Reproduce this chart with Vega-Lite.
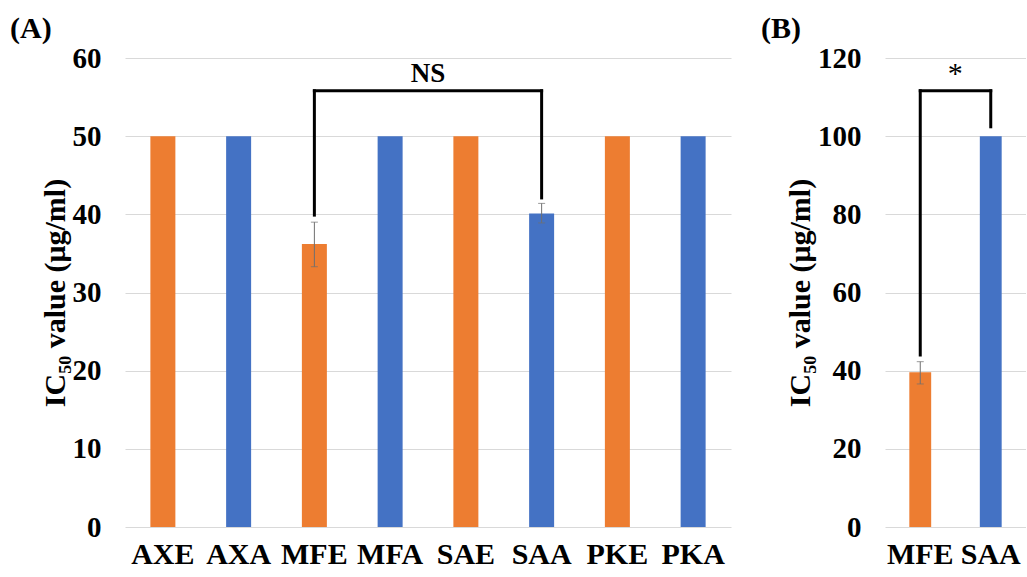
{
  "$schema": "https://vega.github.io/schema/vega-lite/v6.json",
  "padding": {"left": 10, "top": 14, "right": 0, "bottom": 0},
  "background": "white",
  "datasets": {
    "barsA": [
      {"sample": "AXE", "type": "E", "ic50": 50},
      {"sample": "AXA", "type": "A", "ic50": 50},
      {"sample": "MFE", "type": "E", "ic50": 36.2},
      {"sample": "MFA", "type": "A", "ic50": 50},
      {"sample": "SAE", "type": "E", "ic50": 50},
      {"sample": "SAA", "type": "A", "ic50": 40.1},
      {"sample": "PKE", "type": "E", "ic50": 50},
      {"sample": "PKA", "type": "A", "ic50": 50}
    ],
    "errA": [
      {"sample": "MFE", "lo": 33.3, "hi": 39.0},
      {"sample": "SAA", "lo": 38.9, "hi": 41.4}
    ],
    "brA": [
      {"s1": "MFE", "s2": "SAA", "y1": 55.8, "y2": 55.8},
      {"s1": "MFE", "s2": "MFE", "y1": 39.9, "y2": 55.8},
      {"s1": "SAA", "s2": "SAA", "y1": 42.1, "y2": 55.8}
    ],
    "labA": [{"y": 58.0, "label": "NS"}],
    "barsB": [
      {"sample": "MFE", "type": "E", "ic50": 39.6},
      {"sample": "SAA", "type": "A", "ic50": 100}
    ],
    "errB": [
      {"sample": "MFE", "lo": 36.6, "hi": 42.3}
    ],
    "brB": [
      {"s1": "MFE", "s2": "SAA", "y1": 111.6, "y2": 111.6},
      {"s1": "MFE", "s2": "MFE", "y1": 44.0, "y2": 111.6},
      {"s1": "SAA", "s2": "SAA", "y1": 102.4, "y2": 111.6}
    ],
    "labB": [{"y": 116.0, "label": "*"}]
  },
  "hconcat": [
    {
      "width": 606,
      "height": 469,
      "title": {"text": "(A)", "anchor": "start", "frame": "group", "dx": -115, "dy": 6},
      "layer": [
        {
          "data": {"name": "barsA"},
          "mark": {"type": "bar"},
          "encoding": {
            "x": {"field": "sample", "type": "nominal", "sort": null,
                  "scale": {"domain": ["AXE","AXA","MFE","MFA","SAE","SAA","PKE","PKA"], "paddingInner": 0.67, "paddingOuter": 0.335},
                  "axis": {"title": null}},
            "y": {"field": "ic50", "type": "quantitative",
                  "scale": {"domain": [0, 60]},
                  "axis": {"values": [0,10,20,30,40,50,60], "title": "IC₅₀ value (μg/ml)"}},
            "color": {"field": "type", "type": "nominal",
                      "scale": {"domain": ["E","A"], "range": ["#ED7D31","#4472C4"]}, "legend": null}
          }
        },
        {
          "data": {"name": "errA"},
          "mark": {"type": "rule", "color": "#6f6f6f", "strokeWidth": 1},
          "encoding": {
            "x": {"field": "sample", "type": "nominal"},
            "y": {"field": "lo", "type": "quantitative"},
            "y2": {"field": "hi"}
          }
        },
        {
          "data": {"name": "errA"},
          "mark": {"type": "tick", "color": "#6f6f6f", "thickness": 1, "size": 7, "orient": "horizontal"},
          "encoding": {
            "x": {"field": "sample", "type": "nominal"},
            "y": {"field": "lo", "type": "quantitative"}
          }
        },
        {
          "data": {"name": "errA"},
          "mark": {"type": "tick", "color": "#6f6f6f", "thickness": 1, "size": 7, "orient": "horizontal"},
          "encoding": {
            "x": {"field": "sample", "type": "nominal"},
            "y": {"field": "hi", "type": "quantitative"}
          }
        },
        {
          "data": {"name": "brA"},
          "mark": {"type": "rule", "color": "black", "strokeWidth": 3, "strokeCap": "square"},
          "encoding": {
            "x": {"field": "s1", "type": "nominal"},
            "x2": {"field": "s2"},
            "y": {"field": "y1", "type": "quantitative"},
            "y2": {"field": "y2"}
          }
        },
        {
          "data": {"name": "labA"},
          "mark": {"type": "text", "fontSize": 27, "fontWeight": "bold", "font": "Liberation Serif", "color": "black", "baseline": "middle", "dx": 37.9},
          "encoding": {
            "x": {"datum": "MFA", "type": "nominal"},
            "y": {"field": "y", "type": "quantitative"},
            "text": {"field": "label"}
          }
        }
      ]
    },
    {
      "width": 141,
      "height": 469,
      "title": {"text": "(B)", "anchor": "start", "frame": "group", "dx": -124, "dy": 6},
      "layer": [
        {
          "data": {"name": "barsB"},
          "mark": {"type": "bar"},
          "encoding": {
            "x": {"field": "sample", "type": "nominal", "sort": null,
                  "scale": {"domain": ["MFE","SAA"], "paddingInner": 0.69, "paddingOuter": 0.345},
                  "axis": {"title": null}},
            "y": {"field": "ic50", "type": "quantitative",
                  "scale": {"domain": [0, 120]},
                  "axis": {"values": [0,20,40,60,80,100,120], "title": "IC₅₀ value (μg/ml)"}},
            "color": {"field": "type", "type": "nominal",
                      "scale": {"domain": ["E","A"], "range": ["#ED7D31","#4472C4"]}, "legend": null}
          }
        },
        {
          "data": {"name": "errB"},
          "mark": {"type": "rule", "color": "#6f6f6f", "strokeWidth": 1},
          "encoding": {
            "x": {"field": "sample", "type": "nominal"},
            "y": {"field": "lo", "type": "quantitative"},
            "y2": {"field": "hi"}
          }
        },
        {
          "data": {"name": "errB"},
          "mark": {"type": "tick", "color": "#6f6f6f", "thickness": 1, "size": 7, "orient": "horizontal"},
          "encoding": {
            "x": {"field": "sample", "type": "nominal"},
            "y": {"field": "lo", "type": "quantitative"}
          }
        },
        {
          "data": {"name": "errB"},
          "mark": {"type": "tick", "color": "#6f6f6f", "thickness": 1, "size": 7, "orient": "horizontal"},
          "encoding": {
            "x": {"field": "sample", "type": "nominal"},
            "y": {"field": "hi", "type": "quantitative"}
          }
        },
        {
          "data": {"name": "brB"},
          "mark": {"type": "rule", "color": "black", "strokeWidth": 3, "strokeCap": "square"},
          "encoding": {
            "x": {"field": "s1", "type": "nominal"},
            "x2": {"field": "s2"},
            "y": {"field": "y1", "type": "quantitative"},
            "y2": {"field": "y2"}
          }
        },
        {
          "data": {"name": "labB"},
          "mark": {"type": "text", "fontSize": 30, "font": "Liberation Serif", "color": "black", "baseline": "middle", "dx": 35},
          "encoding": {
            "x": {"datum": "MFE", "type": "nominal"},
            "y": {"field": "y", "type": "quantitative"},
            "text": {"field": "label"}
          }
        }
      ]
    }
  ],
  "spacing": 30,
  "resolve": {"scale": {"color": "shared"}},
  "config": {
    "font": "Liberation Serif",
    "view": {"stroke": null},
    "title": {"fontSize": 30, "fontWeight": "bold", "color": "black", "offset": 6},
    "axisY": {"domain": false, "ticks": false, "grid": true, "gridColor": "#d9d9d9", "gridWidth": 1.2,
              "labelFontSize": 29, "labelFontWeight": "bold", "labelColor": "black", "labelPadding": 24,
              "titleFontSize": 30, "titleFontWeight": "bold", "titleColor": "black", "titlePadding": 2},
    "axisX": {"domain": false, "ticks": false, "grid": false, "labelAngle": 0,
              "labelFontSize": 30, "labelFontWeight": "bold", "labelColor": "black", "labelPadding": 12}
  }
}
